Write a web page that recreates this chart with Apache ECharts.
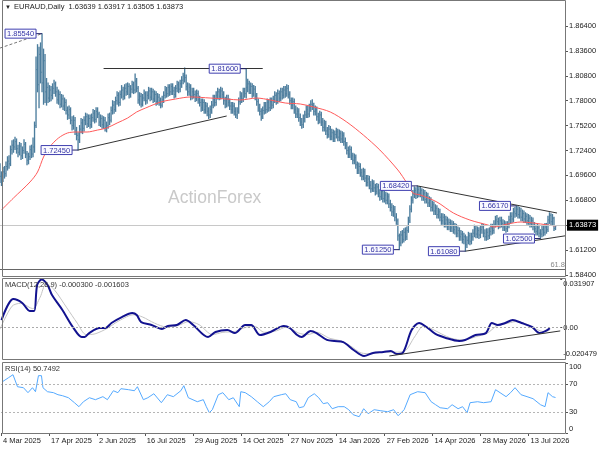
<!DOCTYPE html>
<html>
<head>
<meta charset="utf-8">
<script src="https://cdn.jsdelivr.net/npm/echarts@6/dist/echarts.min.js"></script>
<style>
  html, body { margin: 0; padding: 0; background: #fff; }
  #chart { width: 600px; height: 450px; }
</style>
</head>
<body>
<div id="chart"></div>
<script>
// EURAUD daily bars (one bar per trading day from 4 Mar 2025)
const opens = [
  1.7010,1.6950,1.6910,1.7000,1.6980,1.7060,1.7120,1.7090,1.7250,1.7300,
  1.7280,1.7340,1.7260,1.7220,1.7290,1.7180,1.7240,1.7310,1.7200,1.7130,
  1.7170,1.7250,1.7200,1.7280,1.7520,1.8150,1.7980,1.8320,1.8120,1.8000,
  1.8250,1.7900,1.7950,1.7830,1.7920,1.7860,1.7940,1.7990,1.7900,1.7810,
  1.7870,1.7760,1.7820,1.7740,1.7780,1.7690,1.7640,1.7700,1.7580,1.7520,
  1.7580,1.7460,1.7410,1.7360,1.7480,1.7550,1.7490,1.7580,1.7620,1.7540,
  1.7600,1.7530,1.7610,1.7660,1.7590,1.7680,1.7650,1.7560,1.7600,1.7530,
  1.7580,1.7500,1.7520,1.7610,1.7580,1.7690,1.7750,1.7700,1.7800,1.7860,
  1.7780,1.7870,1.7920,1.7850,1.7940,1.7900,1.7960,1.7870,1.7930,1.7980,
  1.7920,1.8020,1.7940,1.7810,1.7850,1.7760,1.7830,1.7880,1.7800,1.7860,
  1.7910,1.7840,1.7900,1.7820,1.7870,1.7790,1.7840,1.7800,1.7750,1.7810,
  1.7860,1.7920,1.7880,1.7950,1.7900,1.7960,1.7910,1.7870,1.7940,1.7980,
  1.7930,1.7990,1.8030,1.8080,1.8060,1.7960,1.7900,1.7950,1.7850,1.7900,
  1.7870,1.7830,1.7880,1.7810,1.7780,1.7720,1.7780,1.7700,1.7740,1.7680,
  1.7640,1.7700,1.7750,1.7820,1.7780,1.7860,1.7900,1.7850,1.7910,1.7870,
  1.7800,1.7760,1.7820,1.7780,1.7740,1.7700,1.7740,1.7680,1.7640,1.7680,
  1.7790,1.7850,1.7820,1.7900,1.7880,1.7950,1.7990,1.7920,1.7960,1.7880,
  1.7930,1.7850,1.7790,1.7720,1.7680,1.7620,1.7690,1.7740,1.7700,1.7780,
  1.7720,1.7790,1.7750,1.7810,1.7860,1.7800,1.7880,1.7830,1.7900,1.7860,
  1.7920,1.7880,1.7940,1.7870,1.7800,1.7750,1.7790,1.7700,1.7650,1.7680,
  1.7610,1.7560,1.7530,1.7600,1.7640,1.7700,1.7650,1.7720,1.7760,1.7740,
  1.7680,1.7700,1.7620,1.7580,1.7640,1.7560,1.7500,1.7540,1.7460,1.7420,
  1.7480,1.7400,1.7440,1.7380,1.7420,1.7450,1.7390,1.7430,1.7370,1.7410,
  1.7340,1.7300,1.7240,1.7200,1.7250,1.7180,1.7130,1.7160,1.7080,1.7020,
  1.7060,1.6990,1.6950,1.7000,1.6930,1.6880,1.6920,1.6850,1.6810,1.6870,
  1.6820,1.6780,1.6830,1.6760,1.6720,1.6780,1.6700,1.6740,1.6680,1.6720,
  1.6640,1.6600,1.6550,1.6580,1.6490,1.6450,1.6280,1.6200,1.6290,1.6240,
  1.6320,1.6270,1.6340,1.6450,1.6580,1.6680,1.6750,1.6790,1.6740,1.6800,
  1.6760,1.6790,1.6720,1.6760,1.6690,1.6730,1.6650,1.6680,1.6600,1.6630,
  1.6560,1.6590,1.6520,1.6550,1.6490,1.6450,1.6490,1.6420,1.6460,1.6390,
  1.6430,1.6370,1.6410,1.6350,1.6380,1.6310,1.6340,1.6270,1.6300,1.6240,
  1.6270,1.6180,1.6230,1.6280,1.6220,1.6270,1.6310,1.6360,1.6300,1.6340,
  1.6290,1.6350,1.6380,1.6310,1.6270,1.6320,1.6280,1.6330,1.6370,1.6340,
  1.6410,1.6460,1.6440,1.6400,1.6450,1.6420,1.6380,1.6410,1.6360,1.6400,
  1.6460,1.6500,1.6470,1.6550,1.6530,1.6580,1.6520,1.6560,1.6490,1.6530,
  1.6470,1.6500,1.6450,1.6480,1.6420,1.6450,1.6390,1.6360,1.6330,1.6370,
  1.6310,1.6300,1.6350,1.6320,1.6380,1.6350,1.6460,1.6510,1.6440,1.6480,
  1.63639
];
const closes = [
  1.6950,1.6910,1.7000,1.6980,1.7060,1.7120,1.7090,1.7250,1.7300,1.7280,
  1.7340,1.7260,1.7220,1.7290,1.7180,1.7240,1.7310,1.7200,1.7130,1.7170,
  1.7250,1.7200,1.7280,1.7520,1.8150,1.7980,1.8320,1.8120,1.8000,1.8250,
  1.7900,1.7950,1.7830,1.7920,1.7860,1.7940,1.7990,1.7900,1.7810,1.7870,
  1.7760,1.7820,1.7740,1.7780,1.7690,1.7640,1.7700,1.7580,1.7520,1.7580,
  1.7460,1.7410,1.7360,1.7480,1.7550,1.7490,1.7580,1.7620,1.7540,1.7600,
  1.7530,1.7610,1.7660,1.7590,1.7680,1.7650,1.7560,1.7600,1.7530,1.7580,
  1.7500,1.7520,1.7610,1.7580,1.7690,1.7750,1.7700,1.7800,1.7860,1.7780,
  1.7870,1.7920,1.7850,1.7940,1.7900,1.7960,1.7870,1.7930,1.7980,1.7920,
  1.8020,1.7940,1.7810,1.7850,1.7760,1.7830,1.7880,1.7800,1.7860,1.7910,
  1.7840,1.7900,1.7820,1.7870,1.7790,1.7840,1.7800,1.7750,1.7810,1.7860,
  1.7920,1.7880,1.7950,1.7900,1.7960,1.7910,1.7870,1.7940,1.7980,1.7930,
  1.7990,1.8030,1.8080,1.8060,1.7960,1.7900,1.7950,1.7850,1.7900,1.7870,
  1.7830,1.7880,1.7810,1.7780,1.7720,1.7780,1.7700,1.7740,1.7680,1.7640,
  1.7700,1.7750,1.7820,1.7780,1.7860,1.7900,1.7850,1.7910,1.7870,1.7800,
  1.7760,1.7820,1.7780,1.7740,1.7700,1.7740,1.7680,1.7640,1.7680,1.7790,
  1.7850,1.7820,1.7900,1.7880,1.7950,1.7990,1.7920,1.7960,1.7880,1.7930,
  1.7850,1.7790,1.7720,1.7680,1.7620,1.7690,1.7740,1.7700,1.7780,1.7720,
  1.7790,1.7750,1.7810,1.7860,1.7800,1.7880,1.7830,1.7900,1.7860,1.7920,
  1.7880,1.7940,1.7870,1.7800,1.7750,1.7790,1.7700,1.7650,1.7680,1.7610,
  1.7560,1.7530,1.7600,1.7640,1.7700,1.7650,1.7720,1.7760,1.7740,1.7680,
  1.7700,1.7620,1.7580,1.7640,1.7560,1.7500,1.7540,1.7460,1.7420,1.7480,
  1.7400,1.7440,1.7380,1.7420,1.7450,1.7390,1.7430,1.7370,1.7410,1.7340,
  1.7300,1.7240,1.7200,1.7250,1.7180,1.7130,1.7160,1.7080,1.7020,1.7060,
  1.6990,1.6950,1.7000,1.6930,1.6880,1.6920,1.6850,1.6810,1.6870,1.6820,
  1.6780,1.6830,1.6760,1.6720,1.6780,1.6700,1.6740,1.6680,1.6720,1.6640,
  1.6600,1.6550,1.6580,1.6490,1.6450,1.6280,1.6200,1.6290,1.6240,1.6320,
  1.6270,1.6340,1.6450,1.6580,1.6680,1.6750,1.6790,1.6740,1.6800,1.6760,
  1.6790,1.6720,1.6760,1.6690,1.6730,1.6650,1.6680,1.6600,1.6630,1.6560,
  1.6590,1.6520,1.6550,1.6490,1.6450,1.6490,1.6420,1.6460,1.6390,1.6430,
  1.6370,1.6410,1.6350,1.6380,1.6310,1.6340,1.6270,1.6300,1.6240,1.6270,
  1.6180,1.6230,1.6280,1.6220,1.6270,1.6310,1.6360,1.6300,1.6340,1.6290,
  1.6350,1.6380,1.6310,1.6270,1.6320,1.6280,1.6330,1.6370,1.6340,1.6410,
  1.6460,1.6440,1.6400,1.6450,1.6420,1.6380,1.6410,1.6360,1.6400,1.6460,
  1.6500,1.6470,1.6550,1.6530,1.6580,1.6520,1.6560,1.6490,1.6530,1.6470,
  1.6500,1.6450,1.6480,1.6420,1.6450,1.6390,1.6360,1.6330,1.6370,1.6310,
  1.6300,1.6350,1.6320,1.6380,1.6350,1.6460,1.6510,1.6440,1.6480,1.63639,
  1.63873
];
const lows = [
  1.6880,1.6846,1.6890,1.6930,1.6950,1.7020,1.7040,1.7070,1.7200,1.7220,
  1.7250,1.7210,1.7170,1.7190,1.7140,1.7150,1.7210,1.7160,1.7080,1.7090,
  1.7140,1.7160,1.7170,1.7220,1.7500,1.7900,1.7720,1.8000,1.7900,1.7760,
  1.7780,1.7750,1.7780,1.7790,1.7800,1.7820,1.7880,1.7850,1.7770,1.7760,
  1.7720,1.7730,1.7700,1.7690,1.7650,1.7590,1.7600,1.7540,1.7470,1.7480,
  1.7420,1.7360,1.7245,1.7330,1.7440,1.7430,1.7460,1.7530,1.7500,1.7510,
  1.7490,1.7500,1.7570,1.7550,1.7560,1.7610,1.7520,1.7510,1.7490,1.7490,
  1.7460,1.7450,1.7490,1.7530,1.7560,1.7650,1.7660,1.7680,1.7760,1.7740,
  1.7750,1.7830,1.7810,1.7820,1.7860,1.7870,1.7830,1.7840,1.7890,1.7880,
  1.7890,1.7900,1.7770,1.7750,1.7730,1.7740,1.7800,1.7760,1.7770,1.7820,
  1.7800,1.7810,1.7780,1.7790,1.7750,1.7760,1.7750,1.7720,1.7730,1.7780,
  1.7830,1.7840,1.7850,1.7860,1.7870,1.7870,1.7830,1.7840,1.7900,1.7890,
  1.7900,1.7950,1.7990,1.8010,1.7920,1.7860,1.7860,1.7810,1.7820,1.7830,
  1.7790,1.7800,1.7770,1.7740,1.7680,1.7690,1.7660,1.7660,1.7630,1.7600,
  1.7610,1.7660,1.7720,1.7740,1.7750,1.7820,1.7810,1.7820,1.7830,1.7760,
  1.7720,1.7730,1.7740,1.7700,1.7660,1.7660,1.7640,1.7610,1.7600,1.7660,
  1.7760,1.7780,1.7790,1.7840,1.7830,1.7900,1.7880,1.7880,1.7840,1.7850,
  1.7810,1.7750,1.7680,1.7640,1.7580,1.7600,1.7650,1.7660,1.7670,1.7680,
  1.7690,1.7710,1.7720,1.7780,1.7760,1.7770,1.7790,1.7800,1.7820,1.7830,
  1.7840,1.7850,1.7830,1.7760,1.7710,1.7710,1.7660,1.7610,1.7610,1.7570,
  1.7520,1.7490,1.7500,1.7560,1.7610,1.7610,1.7620,1.7680,1.7700,1.7640,
  1.7640,1.7580,1.7540,1.7550,1.7520,1.7460,1.7460,1.7420,1.7380,1.7390,
  1.7360,1.7360,1.7340,1.7340,1.7380,1.7350,1.7350,1.7330,1.7330,1.7300,
  1.7260,1.7200,1.7160,1.7160,1.7140,1.7090,1.7090,1.7040,1.6980,1.6980,
  1.6950,1.6910,1.6910,1.6890,1.6840,1.6840,1.6810,1.6770,1.6780,1.6780,
  1.6740,1.6750,1.6720,1.6680,1.6690,1.6660,1.6660,1.6640,1.6640,1.6600,
  1.6560,1.6510,1.6500,1.6450,1.6410,1.6230,1.6125,1.6170,1.6200,1.6210,
  1.6230,1.6240,1.6320,1.6430,1.6550,1.6650,1.6710,1.6700,1.6710,1.6720,
  1.6720,1.6680,1.6680,1.6650,1.6650,1.6610,1.6610,1.6560,1.6560,1.6520,
  1.6520,1.6480,1.6480,1.6450,1.6410,1.6410,1.6380,1.6380,1.6350,1.6350,
  1.6330,1.6330,1.6310,1.6300,1.6270,1.6270,1.6230,1.6230,1.6200,1.6190,
  1.6108,1.6150,1.6190,1.6180,1.6190,1.6230,1.6270,1.6260,1.6260,1.6250,
  1.6260,1.6310,1.6270,1.6230,1.6230,1.6240,1.6250,1.6290,1.6300,1.6310,
  1.6380,1.6400,1.6360,1.6370,1.6380,1.6340,1.6340,1.6320,1.6330,1.6370,
  1.6420,1.6430,1.6440,1.6490,1.6500,1.6480,1.6480,1.6450,1.6450,1.6430,
  1.6430,1.6410,1.6410,1.6380,1.6380,1.6350,1.6320,1.6290,1.6290,1.6270,
  1.6250,1.6270,1.6280,1.6290,1.6310,1.6330,1.6420,1.6400,1.6400,1.6340,
  1.63505
];
const highs = [
  1.7090,1.7000,1.7050,1.7060,1.7110,1.7170,1.7180,1.7290,1.7350,1.7360,
  1.7390,1.7370,1.7300,1.7330,1.7320,1.7280,1.7360,1.7330,1.7230,1.7210,
  1.7290,1.7300,1.7380,1.7560,1.8290,1.8430,1.8400,1.8450,1.8554,1.8380,
  1.8320,1.8050,1.8000,1.7970,1.7960,1.7990,1.8030,1.8010,1.7950,1.7920,
  1.7900,1.7870,1.7860,1.7830,1.7810,1.7730,1.7740,1.7720,1.7620,1.7630,
  1.7610,1.7500,1.7440,1.7520,1.7600,1.7590,1.7620,1.7660,1.7650,1.7640,
  1.7640,1.7650,1.7700,1.7690,1.7720,1.7720,1.7670,1.7640,1.7630,1.7620,
  1.7610,1.7560,1.7650,1.7660,1.7730,1.7800,1.7790,1.7840,1.7900,1.7890,
  1.7910,1.7970,1.7950,1.7980,1.7990,1.8000,1.7990,1.7970,1.8020,1.8010,
  1.8100,1.8050,1.7960,1.7890,1.7880,1.7870,1.7920,1.7900,1.7900,1.7950,
  1.7940,1.7940,1.7930,1.7910,1.7900,1.7880,1.7870,1.7830,1.7850,1.7900,
  1.7960,1.7950,1.7980,1.7980,1.7990,1.7990,1.7950,1.7970,1.8020,1.8010,
  1.8030,1.8070,1.8110,1.8168,1.8090,1.8000,1.7990,1.7980,1.7940,1.7940,
  1.7910,1.7920,1.7910,1.7850,1.7820,1.7820,1.7810,1.7780,1.7770,1.7720,
  1.7740,1.7790,1.7860,1.7860,1.7900,1.7940,1.7930,1.7950,1.7940,1.7900,
  1.7840,1.7860,1.7860,1.7820,1.7780,1.7780,1.7770,1.7720,1.7720,1.7830,
  1.7900,1.7890,1.7940,1.7940,1.8160,1.8040,1.8020,1.8000,1.7990,1.7970,
  1.7960,1.7880,1.7820,1.7760,1.7710,1.7730,1.7780,1.7780,1.7820,1.7810,
  1.7830,1.7830,1.7850,1.7900,1.7890,1.7920,1.7910,1.7940,1.7940,1.7960,
  1.7960,1.7980,1.7970,1.7900,1.7830,1.7830,1.7820,1.7740,1.7720,1.7710,
  1.7650,1.7600,1.7640,1.7680,1.7740,1.7740,1.7760,1.7800,1.7810,1.7770,
  1.7740,1.7730,1.7660,1.7680,1.7670,1.7600,1.7580,1.7570,1.7500,1.7520,
  1.7510,1.7480,1.7470,1.7460,1.7490,1.7480,1.7470,1.7460,1.7450,1.7440,
  1.7380,1.7330,1.7280,1.7290,1.7280,1.7210,1.7200,1.7190,1.7110,1.7100,
  1.7090,1.7030,1.7040,1.7030,1.6960,1.6960,1.6950,1.6890,1.6910,1.6900,
  1.6860,1.6870,1.6860,1.6800,1.6820,1.6810,1.6780,1.6770,1.6760,1.6750,
  1.6680,1.6640,1.6620,1.6610,1.6530,1.6470,1.6300,1.6330,1.6340,1.6360,
  1.6370,1.6380,1.6490,1.6620,1.6720,1.6790,1.6830,1.6820,1.6842,1.6830,
  1.6830,1.6810,1.6800,1.6790,1.6770,1.6760,1.6720,1.6710,1.6670,1.6660,
  1.6630,1.6620,1.6590,1.6580,1.6530,1.6530,1.6520,1.6500,1.6490,1.6470,
  1.6460,1.6450,1.6440,1.6420,1.6410,1.6380,1.6370,1.6340,1.6330,1.6310,
  1.6290,1.6270,1.6320,1.6310,1.6310,1.6350,1.6400,1.6390,1.6380,1.6370,
  1.6390,1.6420,1.6410,1.6350,1.6360,1.6360,1.6370,1.6410,1.6410,1.6450,
  1.6500,1.6510,1.6480,1.6490,1.6490,1.6460,1.6450,1.6440,1.6440,1.6500,
  1.6540,1.6540,1.6590,1.6600,1.6617,1.6610,1.6600,1.6590,1.6570,1.6560,
  1.6540,1.6530,1.6520,1.6510,1.6490,1.6480,1.6430,1.6400,1.6410,1.6400,
  1.6350,1.6390,1.6390,1.6420,1.6420,1.6500,1.6540,1.6530,1.6520,1.6490,
  1.63917
];

// red moving average, [bar index, price]
const maPts = [
  [1,1.6571],[9,1.6706],[20,1.6886],[25,1.6998],[29,1.7167],[33,1.7279],[39,1.7381],
  [45,1.7437],[51,1.7448],[58,1.7448],[65,1.7470],[71,1.7493],[78,1.7549],[85,1.7605],
  [91,1.7673],[97,1.7718],[107,1.7785],[117,1.7819],[127,1.7842],[140,1.7830],[151,1.7819],
  [160,1.7808],[171,1.7830],[180,1.7808],[190,1.7774],[200,1.7763],[209,1.7729],[220,1.7673],
  [231,1.7560],[242,1.7414],[253,1.7246],[265,1.7021],[271,1.6874],[275,1.6762],[280,1.6740],
  [291,1.6661],[302,1.6537],[313,1.6458],[325,1.6402],[329,1.6380],[338,1.6413],[347,1.6436],
  [355,1.6425],[365,1.6402],[370,1.6391]
];

// MACD(12,26,9) main and signal, [bar index, value]
const macdPts = [
  [1,0.0050],[9,0.0188],[15,0.0162],[20,0.0110],[23,0.0110],[25,0.0280],[28,0.0315],[32,0.0280],
  [35,0.0214],[42,0.0116],[49,0.0005],[55,-0.0061],[57,-0.0061],[60,-0.0035],[67,-0.0002],
  [71,-0.0002],[75,0.0031],[82,0.0070],[89,0.0096],[92,0.0083],[95,0.0037],[102,0.0018],
  [109,-0.0008],[113,0.0011],[119,0.0018],[125,0.0050],[130,0.0018],[140,-0.0061],[145,-0.0028],
  [153,-0.0015],[158,-0.0035],[165,0.0018],[169,0.0018],[175,-0.0048],[182,-0.0028],[191,0.0011],
  [195,-0.0002],[200,-0.0048],[203,-0.0061],[209,-0.0022],[213,-0.0035],[220,-0.0080],[225,-0.0087],
  [231,-0.0094],[238,-0.0146],[245,-0.0185],[251,-0.0165],[258,-0.0159],[263,-0.0152],[267,-0.0172],
  [271,-0.0165],[277,-0.0015],[282,0.0031],[287,0.0005],[293,-0.0041],[300,-0.0067],[309,-0.0087],
  [313,-0.0080],[320,-0.0048],[327,-0.0035],[331,0.0031],[335,0.0018],[340,0.0031],[345,0.0050],
  [351,0.0031],[358,0.0005],[363,-0.0035],[367,-0.0022],[370,-0.0003]
];
const signalPts = [
  [0,-0.0010],[8,0.0140],[14,0.0160],[22,0.0125],[27,0.0200],[31,0.0285],[36,0.0255],[45,0.0130],
  [52,0.0030],[58,-0.0045],[64,-0.0040],[72,-0.0005],[80,0.0045],[90,0.0085],[96,0.0070],
  [104,0.0030],[112,0.0005],[120,0.0015],[127,0.0040],[134,0.0020],[143,-0.0045],[150,-0.0030],
  [158,-0.0025],[166,0.0005],[171,0.0010],[178,-0.0030],[186,-0.0020],[193,0.0005],[201,-0.0035],
  [207,-0.0045],[213,-0.0030],[222,-0.0070],[229,-0.0085],[236,-0.0120],[243,-0.0165],[250,-0.0170],
  [258,-0.0160],[266,-0.0160],[272,-0.0155],[279,-0.0060],[285,0.0010],[290,-0.0005],[297,-0.0040],
  [304,-0.0070],[312,-0.0080],[320,-0.0060],[328,-0.0035],[334,0.0010],[340,0.0025],[347,0.0040],
  [354,0.0025],[361,-0.0010],[366,-0.0025],[370,-0.0016]
];

// RSI(14), [bar index, value]
const rsiPts = [
  [1,73.3],[5,79.0],[8,83.3],[11,66.1],[15,64.7],[18,57.6],[21,64.7],[23,59.0],[25,81.9],[27,81.9],
  [28,64.7],[31,59.0],[35,57.6],[38,54.7],[41,53.3],[45,50.4],[49,43.3],[52,37.6],[55,44.7],[59,50.4],
  [63,47.6],[68,51.9],[71,47.6],[75,60.4],[78,57.6],[80,63.3],[85,61.9],[89,60.4],[91,66.1],[95,47.6],
  [98,50.4],[102,56.1],[107,43.3],[111,54.7],[115,51.9],[120,60.4],[122,67.6],[125,50.4],[131,44.7],
  [135,47.6],[137,37.6],[139,29.0],[141,33.3],[145,54.7],[148,57.6],[152,47.6],[155,50.4],[159,37.6],
  [160,59.0],[163,57.6],[167,51.9],[171,44.7],[175,37.6],[179,44.7],[182,51.9],[187,54.7],[190,56.1],
  [193,47.6],[197,44.7],[199,36.1],[202,37.6],[205,50.4],[209,56.1],[212,50.4],[215,41.9],[218,43.3],
  [221,34.7],[225,37.6],[229,37.6],[232,33.3],[235,26.1],[239,23.3],[242,34.7],[245,27.6],[249,33.3],
  [253,31.9],[258,30.4],[262,33.3],[265,24.7],[269,33.3],[273,54.7],[278,59.0],[283,57.6],[287,44.7],
  [290,40.4],[293,36.1],[298,34.7],[301,40.4],[305,34.7],[308,37.6],[311,29.0],[313,43.3],[318,44.7],
  [322,43.3],[327,44.7],[330,61.9],[333,57.6],[337,51.9],[340,57.6],[343,64.7],[347,54.7],[351,51.9],
  [355,49.0],[360,40.4],[363,37.6],[365,57.6],[368,51.9],[370,50.7]
];

// labelled swing points, [bar index, price]
const swings = [[28,1.8554],[52,1.7245],[164,1.8160],[278,1.6842],[266,1.6125],[310,1.6108],[344,1.6617],[360,1.6250]];

// drawn trend lines, pairs of [bar index, price]
const trendLines = [
  [[52,1.7245],[151,1.7628]],
  [[69,1.8165],[175,1.8165]],
  [[278,1.6842],[371,1.6537]],
  [[310,1.6108],[377,1.6282]]
];
const dashedLine = [[0,1.8392],[28,1.8554]];
const macdTrend = [[262,-0.0185],[377,-0.0021]];
const fibLevel = 1.5924;
const lastPrice = 1.63873;

const priceTicks = [1.584,1.612,1.640,1.668,1.696,1.724,1.752,1.780,1.808,1.836,1.864];
const priceLabels = [1.584,1.612,1.668,1.696,1.724,1.752,1.780,1.808,1.836,1.864];
const macdTicks = [-0.020479, 0, 0.031907];
const rsiTicks = [0, 30, 70, 100];

// trading-day calendar
const nSlots = 378;
const holidays = ['2025-12-25','2026-01-01'];
const monthNames = ['Jan','Feb','Mar','Apr','May','Jun','Jul','Aug','Sep','Oct','Nov','Dec'];
const days = [];
for (let t = Date.UTC(2025, 2, 4); days.length < nSlots; t += 86400000) {
  const d = new Date(t);
  const wd = d.getUTCDay();
  if (wd === 0 || wd === 6) continue;
  if (holidays.indexOf(d.toISOString().slice(0, 10)) >= 0) continue;
  days.push(d.getUTCDate() + ' ' + monthNames[d.getUTCMonth()] + ' ' + d.getUTCFullYear());
}

// [index, open, close, low, high]
const bars = opens.map((o, i) => [i, o, closes[i], lows[i], highs[i]]);

const FONT = '"Liberation Sans", Arial, sans-serif';
const barColor = '#4c7d9d';

function seg(a, b, style) {
  return [{ coord: a, lineStyle: style }, { coord: b }];
}

// MT4-style OHLC bar: high-low stem, open tick left, close tick right
function renderBar(params, api) {
  const i = api.value(0);
  const pO = api.coord([i, api.value(1)]);
  const pC = api.coord([i, api.value(2)]);
  const pL = api.coord([i, api.value(3)]);
  const pH = api.coord([i, api.value(4)]);
  const x = pO[0];
  return {
    type: 'group',
    children: [
      { type: 'line', shape: { x1: x, y1: pH[1] - 0.5, x2: x, y2: pL[1] + 0.5 }, style: { stroke: barColor, lineWidth: 1.35 } },
      { type: 'line', shape: { x1: x - 0.7, y1: pO[1], x2: x, y2: pO[1] }, style: { stroke: barColor, lineWidth: 0.9 } },
      { type: 'line', shape: { x1: x, y1: pC[1], x2: x + 0.7, y2: pC[1] }, style: { stroke: barColor, lineWidth: 0.9 } }
    ]
  };
}

const myChart = echarts.init(document.getElementById('chart'), null, { renderer: 'canvas' });

const xBase = {
  type: 'category',
  data: days,
  boundaryGap: false,
  axisLine: { show: false },
  axisTick: { show: false },
  axisLabel: { show: false },
  splitLine: { show: false }
};

const yLabelBase = { color: '#222', fontSize: 7.5, fontFamily: FONT, margin: 3 };

const option = {
  animation: false,
  backgroundColor: '#fff',
  grid: [
    { left: 0, right: 34, top: 1, height: 276 },
    { left: 0, right: 34, top: 279, height: 80 },
    { left: 0, right: 34, top: 363, height: 70 }
  ],
  xAxis: [
    Object.assign({}, xBase, { gridIndex: 0 }),
    Object.assign({}, xBase, { gridIndex: 1 }),
    Object.assign({}, xBase, {
      gridIndex: 2,
      axisTick: { show: true, interval: 31, length: 3, lineStyle: { color: '#555' } },
      axisLabel: {
        show: true, interval: 31, align: 'left', padding: [0, 0, 0, 2],
        color: '#222', fontSize: 7.5, fontFamily: FONT, margin: 4
      }
    })
  ],
  yAxis: [
    {
      gridIndex: 0, type: 'value', position: 'right',
      min: 1.58175, max: 1.89211,
      axisLine: { show: false },
      axisTick: { show: true, customValues: priceTicks, length: 2, lineStyle: { color: '#555' } },
      axisLabel: Object.assign({}, yLabelBase, {
        customValues: priceLabels,
        formatter: v => v.toFixed(5)
      }),
      splitLine: { show: false }
    },
    {
      gridIndex: 1, type: 'value', position: 'right',
      min: -0.020479, max: 0.031907,
      axisLine: { show: false },
      axisTick: { show: true, customValues: macdTicks, length: 2, lineStyle: { color: '#555' } },
      axisLabel: Object.assign({}, yLabelBase, {
        customValues: macdTicks,
        lineHeight: 10,
        formatter: v => v > 0.01 ? '\n' + v.toFixed(6) : (v < -0.01 ? v.toFixed(6) + '\n' : '0.00')
      }),
      splitLine: { show: false }
    },
    {
      gridIndex: 2, type: 'value', position: 'right',
      min: 0, max: 100,
      axisLine: { show: false },
      axisTick: { show: true, customValues: rsiTicks, length: 2, lineStyle: { color: '#555' } },
      axisLabel: Object.assign({}, yLabelBase, {
        customValues: rsiTicks,
        lineHeight: 8,
        formatter: v => v === 100 ? '\n100' : (v === 0 ? '0\n' : String(v))
      }),
      splitLine: { show: false }
    }
  ],
  graphic: [
    {
      type: 'text', left: 168, top: 189, z: 0,
      style: { text: 'ActionForex', fill: '#c9c9c9', font: '17.5px ' + FONT }
    },
    {
      type: 'text', left: 5, top: 4, z: 10,
      style: { text: '\u25BC', fill: '#222', font: '6px ' + FONT }
    },
    {
      type: 'text', left: 14, top: 3, z: 10,
      style: { text: 'EURAUD,Daily  1.63639 1.63917 1.63505 1.63873', fill: '#222', font: '7.5px ' + FONT }
    },
    {
      type: 'text', left: 5, top: 281, z: 10,
      style: { text: 'MACD(12,26,9) -0.000300 -0.001603', fill: '#333', font: '7.5px ' + FONT }
    },
    {
      type: 'text', left: 5, top: 365, z: 10,
      style: { text: 'RSI(14) 50.7492', fill: '#333', font: '7.5px ' + FONT }
    },
    { type: 'rect', z: 20, shape: { x: 2.5, y: 0.5, width: 563, height: 276 }, style: { fill: 'none', stroke: '#777', lineWidth: 1 } },
    { type: 'rect', z: 20, shape: { x: 2.5, y: 278.5, width: 563, height: 81 }, style: { fill: 'none', stroke: '#777', lineWidth: 1 } },
    { type: 'rect', z: 20, shape: { x: 2.5, y: 362.5, width: 563, height: 71 }, style: { fill: 'none', stroke: '#777', lineWidth: 1 } }
  ],
  series: [
    {
      name: 'EURAUD',
      type: 'custom',
      xAxisIndex: 0, yAxisIndex: 0,
      data: bars,
      encode: { x: 0, y: [1, 2, 3, 4] },
      renderItem: renderBar,
      markLine: {
        silent: true, symbol: ['none', 'none'],
        label: { show: false },
        data: [
          ...trendLines.map(l => seg(l[0], l[1], { color: '#333', width: 1, type: 'solid' })),
          seg(dashedLine[0], dashedLine[1], { color: '#777', width: 1, type: [3, 2] }),
          {
            yAxis: fibLevel,
            lineStyle: { color: '#666', width: 1, type: 'solid' },
            label: { show: true, position: 'insideEndTop', formatter: '61.8', color: '#888', fontSize: 7.5, fontFamily: FONT, distance: 1 }
          },
          {
            yAxis: lastPrice,
            lineStyle: { color: '#c8c8c8', width: 1, type: 'solid' },
            label: {
              show: true, position: 'end', formatter: lastPrice.toFixed(5), distance: 1,
              backgroundColor: '#000', color: '#fff', padding: [2, 2, 1, 2],
              fontSize: 7.5, fontFamily: FONT
            }
          }
        ]
      }
    },
    {
      name: 'MA', type: 'line', xAxisIndex: 0, yAxisIndex: 0,
      data: maPts, showSymbol: false, smooth: 0.3,
      lineStyle: { color: '#ff5a5a', width: 1 }
    },
    {
      name: 'swings', type: 'custom', xAxisIndex: 0, yAxisIndex: 0,
      data: swings, z: 5, clip: false,
      renderItem: function (params, api) {
        const p = api.coord([api.value(0), api.value(1)]);
        const w = 31, h = 9, gap = 6;
        const txt = api.value(1).toFixed(5);
        return {
          type: 'group',
          children: [
            { type: 'line', shape: { x1: p[0] - gap, y1: p[1], x2: p[0], y2: p[1] }, style: { stroke: '#222266', lineWidth: 1 } },
            { type: 'rect', shape: { x: p[0] - gap - w, y: p[1] - h / 2, width: w, height: h }, style: { fill: '#fafaff', stroke: '#4040b0', lineWidth: 1 } },
            {
              type: 'text', x: p[0] - gap - w / 2, y: p[1] + 0.5,
              style: { text: txt, fill: '#3535a5', font: '7.5px ' + FONT, align: 'center', verticalAlign: 'middle', textAlign: 'center', textVerticalAlign: 'middle' }
            }
          ]
        };
      }
    },
    {
      name: 'Signal', type: 'line', xAxisIndex: 1, yAxisIndex: 1,
      data: signalPts, showSymbol: false, smooth: 0.3,
      lineStyle: { color: '#c4c4c4', width: 1 }
    },
    {
      name: 'MACD', type: 'line', xAxisIndex: 1, yAxisIndex: 1,
      data: macdPts, showSymbol: false, smooth: 0.3,
      lineStyle: { color: '#12128f', width: 2 },
      markLine: {
        silent: true, symbol: ['none', 'none'], label: { show: false },
        data: [
          { yAxis: 0, lineStyle: { color: '#aaa', width: 1, type: [2, 2] } },
          seg(macdTrend[0], macdTrend[1], { color: '#333', width: 1, type: 'solid' })
        ]
      }
    },
    {
      name: 'RSI', type: 'line', xAxisIndex: 2, yAxisIndex: 2,
      data: rsiPts, showSymbol: false,
      lineStyle: { color: '#55aaff', width: 1 },
      markLine: {
        silent: true, symbol: ['none', 'none'], label: { show: false },
        data: [
          { yAxis: 70, lineStyle: { color: '#b5b5b5', width: 1, type: [2, 2] } },
          { yAxis: 30, lineStyle: { color: '#b5b5b5', width: 1, type: [2, 2] } }
        ]
      }
    }
  ]
};

myChart.setOption(option);
</script>
</body>
</html>
